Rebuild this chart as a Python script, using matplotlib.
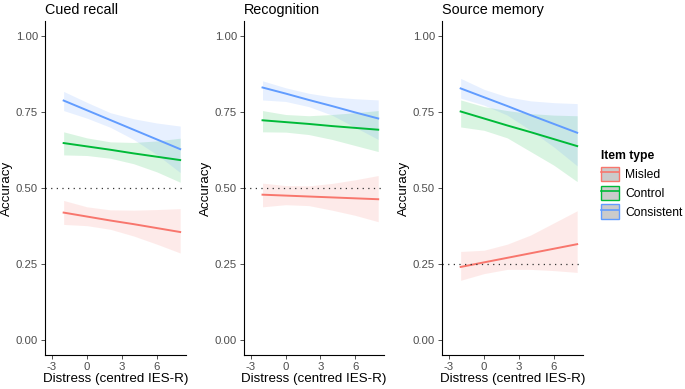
import numpy as np
import matplotlib
matplotlib.use("Agg")
import matplotlib.pyplot as plt
from matplotlib.patches import Patch
from matplotlib.lines import Line2D
from matplotlib.legend_handler import HandlerTuple

plt.rcParams['font.family'] = ['Liberation Sans', 'DejaVu Sans']
plt.rcParams['axes.unicode_minus'] = False

# Data (fitted lines and 95% ribbons)
distress = [-2, 0, 2, 4, 6, 8]
panels = ["Cued recall", "Recognition", "Source memory"]
chance = [0.50, 0.50, 0.25]
item_types = ["Misled", "Control", "Consistent"]
colors = {"Misled": "#F8766D", "Control": "#00BA38", "Consistent": "#619CFF"}

# Cued recall
cued_fit = {
    "Misled":     [0.419, 0.406, 0.393, 0.381, 0.368, 0.355],
    "Control":    [0.648, 0.637, 0.626, 0.614, 0.603, 0.592],
    "Consistent": [0.788, 0.756, 0.724, 0.692, 0.660, 0.628],
}
cued_hi = {
    "Misled":     [0.459, 0.438, 0.428, 0.427, 0.429, 0.432],
    "Control":    [0.685, 0.665, 0.652, 0.650, 0.655, 0.664],
    "Consistent": [0.818, 0.782, 0.748, 0.728, 0.714, 0.704],
}
cued_lo = {
    "Misled":     [0.380, 0.376, 0.364, 0.342, 0.315, 0.286],
    "Control":    [0.609, 0.607, 0.598, 0.580, 0.553, 0.519],
    "Consistent": [0.755, 0.730, 0.700, 0.660, 0.610, 0.551],
}

# Recognition
recog_fit = {
    "Misled":     [0.478, 0.475, 0.472, 0.469, 0.466, 0.463],
    "Control":    [0.723, 0.717, 0.711, 0.704, 0.698, 0.692],
    "Consistent": [0.831, 0.811, 0.790, 0.770, 0.749, 0.729],
}
recog_hi = {
    "Misled":     [0.516, 0.508, 0.507, 0.515, 0.527, 0.541],
    "Control":    [0.755, 0.742, 0.738, 0.742, 0.748, 0.755],
    "Consistent": [0.853, 0.830, 0.812, 0.800, 0.794, 0.790],
}
recog_lo = {
    "Misled":     [0.438, 0.445, 0.442, 0.427, 0.410, 0.389],
    "Control":    [0.685, 0.684, 0.676, 0.660, 0.640, 0.620],
    "Consistent": [0.790, 0.785, 0.768, 0.740, 0.700, 0.660],
}

# Source memory
source_fit = {
    "Misled":     [0.240, 0.255, 0.270, 0.285, 0.300, 0.315],
    "Control":    [0.752, 0.729, 0.706, 0.684, 0.661, 0.638],
    "Consistent": [0.828, 0.799, 0.770, 0.740, 0.711, 0.682],
}
source_hi = {
    "Misled":     [0.291, 0.295, 0.315, 0.345, 0.385, 0.425],
    "Control":    [0.790, 0.768, 0.755, 0.745, 0.740, 0.738],
    "Consistent": [0.861, 0.825, 0.800, 0.787, 0.781, 0.778],
}
source_lo = {
    "Misled":     [0.196, 0.218, 0.232, 0.232, 0.228, 0.222],
    "Control":    [0.701, 0.690, 0.665, 0.620, 0.575, 0.521],
    "Consistent": [0.796, 0.773, 0.740, 0.690, 0.635, 0.573],
}

fits = [cued_fit, recog_fit, source_fit]
his = [cued_hi, recog_hi, source_hi]
los = [cued_lo, recog_lo, source_lo]

W, H = 685, 389
fig = plt.figure(figsize=(W / 100, H / 100), dpi=100)
lefts = [45, 244, 442]
widths = [141, 140, 141]
top, bottom = 21, 355

for i, name in enumerate(panels):
    ax = fig.add_axes([lefts[i] / W, (H - bottom) / H, widths[i] / W, (bottom - top) / H])
    for it in item_types:
        ax.fill_between(distress, los[i][it], his[i][it], color=colors[it], alpha=0.15, lw=0)
    for it in item_types:
        ax.plot(distress, fits[i][it], color=colors[it], lw=1.4)
    ax.axhline(chance[i], color='#333333', lw=0.9, ls=(0, (1, 3.5)))
    ax.set_xlim(-3.6, 8.5)
    ax.set_ylim(-0.05, 1.05)
    ax.set_xticks([-3, 0, 3, 6])
    ax.set_yticks([0, 0.25, 0.5, 0.75, 1.0])
    ax.set_yticklabels(["0.00", "0.25", "0.50", "0.75", "1.00"])
    for s in ['top', 'right']:
        ax.spines[s].set_visible(False)
    for s in ['left', 'bottom']:
        ax.spines[s].set_linewidth(0.8)
        ax.spines[s].set_color('black')
    ax.tick_params(length=3, width=0.6, color='#333333', labelcolor='#4D4D4D',
                   labelsize=8.2, pad=2)
    ax.set_xlabel("Distress (centred IES-R)", fontsize=9.6, labelpad=1)
    ax.set_ylabel("Accuracy", fontsize=9.6, labelpad=2)
    ax.set_title(name, loc='left', fontsize=10.4, pad=5)

handles = [(Patch(facecolor='#CBCBCB', edgecolor=colors[it], lw=1.0),
            Line2D([], [], color=colors[it], lw=1.2)) for it in item_types]
leg = fig.legend(handles, item_types, loc='upper left',
                 bbox_to_anchor=(601 / W, 1 - 150 / H),
                 handler_map={tuple: HandlerTuple(ndivide=1, pad=0)},
                 frameon=False, fontsize=8.7, title="Item type",
                 title_fontproperties={'weight': 'bold', 'size': 8.7},
                 alignment='left', handlelength=1.45, handleheight=1.45,
                 labelspacing=0.38, handletextpad=0.55, borderaxespad=0,
                 borderpad=0)

fig.savefig("out.png", dpi=100)
